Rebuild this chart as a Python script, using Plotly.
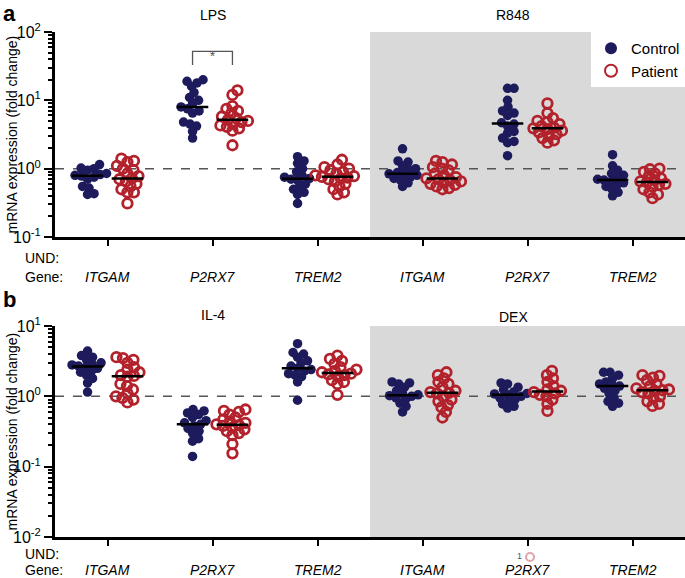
import numpy as np
import plotly.graph_objects as go

W, H = 685, 578
NAVY = "#1e1b5c"
RED = "#b3212b"
GRAY = "#d9d9d9"
FONT = "Liberation Sans, Arial, sans-serif"

genes = ["ITGAM", "P2RX7", "TREM2"]
top_treatments = ["LPS", "R848"]
bottom_treatments = ["IL-4", "DEX"]

# ---- panel a (top) ----
lps_itgam_ctrl = [1.15, 1.02, 1.0, 0.95, 0.85, 0.82, 0.8, 0.78, 0.75, 0.7, 0.55, 0.52, 0.43, 0.42]
lps_itgam_pat = [1.4, 1.3, 1.25, 1.1, 1.0, 0.95, 0.85, 0.78, 0.72, 0.7, 0.65, 0.6, 0.55, 0.5, 0.45, 0.45, 0.31]
lps_p2rx7_ctrl = [20, 19, 18, 16, 13, 11, 10, 9, 8, 7.5, 7, 6.5, 4.8, 4.5, 4.2, 3.5, 2.8]
lps_p2rx7_pat = [14, 12, 8.2, 7.5, 7, 6.5, 5.8, 5.5, 5.2, 5, 4.8, 4.5, 4.3, 4.1, 3.9, 3.6, 2.2]
lps_trem2_ctrl = [1.5, 1.3, 1.2, 1.0, 0.9, 0.8, 0.75, 0.72, 0.7, 0.68, 0.6, 0.55, 0.5, 0.45, 0.42, 0.31]
lps_trem2_pat = [1.35, 1.15, 1.05, 1.0, 0.95, 0.9, 0.85, 0.8, 0.78, 0.76, 0.74, 0.72, 0.7, 0.65, 0.6, 0.55, 0.5, 0.45, 0.42]
r848_itgam_ctrl = [1.95, 1.3, 1.25, 1.1, 1.0, 0.95, 0.88, 0.84, 0.82, 0.8, 0.76, 0.72, 0.68, 0.62, 0.55]
r848_itgam_pat = [1.3, 1.25, 1.15, 1.05, 1.0, 0.95, 0.85, 0.8, 0.75, 0.72, 0.7, 0.68, 0.65, 0.62, 0.6, 0.58, 0.55, 0.52, 0.5]
r848_p2rx7_ctrl = [15, 15, 10, 8, 7, 6.5, 6, 4.7, 4.5, 4.2, 3.5, 3.3, 2.8, 2.5, 2.4, 1.55]
r848_p2rx7_pat = [9, 6.5, 5.5, 5, 4.8, 4.5, 4.2, 4, 3.9, 3.8, 3.6, 3.4, 3.2, 3.0, 2.8, 2.6, 2.4]
r848_trem2_ctrl = [1.6, 1.1, 0.95, 0.85, 0.8, 0.75, 0.7, 0.68, 0.66, 0.62, 0.58, 0.55, 0.5, 0.45, 0.4]
r848_trem2_pat = [1.0, 0.98, 0.9, 0.85, 0.78, 0.72, 0.68, 0.65, 0.63, 0.6, 0.58, 0.55, 0.5, 0.45, 0.42, 0.37]

# ---- panel b (bottom) ----
il4_itgam_ctrl = [4.4, 3.8, 3.6, 3.3, 3.0, 2.9, 2.8, 2.7, 2.6, 2.5, 2.3, 2.2, 2.0, 1.8, 1.55, 1.15]
il4_itgam_pat = [3.6, 3.5, 3.3, 3.0, 2.6, 2.4, 2.2, 2.0, 1.95, 1.9, 1.5, 1.4, 1.25, 1.1, 1.0, 0.95, 0.9, 0.82]
il4_p2rx7_ctrl = [0.65, 0.62, 0.58, 0.55, 0.5, 0.45, 0.42, 0.4, 0.38, 0.35, 0.32, 0.3, 0.25, 0.23, 0.14]
il4_p2rx7_pat = [0.65, 0.62, 0.6, 0.55, 0.5, 0.47, 0.44, 0.42, 0.4, 0.39, 0.38, 0.36, 0.34, 0.32, 0.3, 0.28, 0.21, 0.155]
il4_trem2_ctrl = [5.6, 4.2, 4.0, 3.6, 3.2, 3.0, 2.7, 2.5, 2.4, 2.3, 2.1, 2.0, 1.9, 1.6, 0.88]
il4_trem2_pat = [3.8, 3.4, 3.2, 2.9, 2.6, 2.4, 2.3, 2.2, 2.1, 2.05, 2.0, 1.9, 1.7, 1.6, 1.5, 1.05]
dex_itgam_ctrl = [1.6, 1.55, 1.5, 1.35, 1.2, 1.1, 1.05, 1.02, 1.0, 0.95, 0.9, 0.8, 0.72, 0.6]
dex_itgam_pat = [2.2, 2.0, 1.8, 1.6, 1.5, 1.35, 1.2, 1.15, 1.12, 1.1, 1.0, 0.9, 0.85, 0.75, 0.7, 0.6, 0.5]
dex_p2rx7_ctrl = [1.55, 1.5, 1.35, 1.25, 1.15, 1.1, 1.08, 1.05, 1.0, 0.95, 0.9, 0.85, 0.78, 0.72, 0.68]
dex_p2rx7_pat = [2.3, 2.0, 1.8, 1.6, 1.4, 1.25, 1.2, 1.15, 1.1, 1.05, 1.0, 0.9, 0.78, 0.62]
dex_trem2_ctrl = [2.2, 2.2, 2.0, 1.8, 1.6, 1.5, 1.45, 1.4, 1.3, 1.2, 1.1, 0.95, 0.85, 0.8, 0.72]
dex_trem2_pat = [2.0, 1.95, 1.85, 1.7, 1.5, 1.4, 1.3, 1.25, 1.22, 1.2, 1.15, 1.1, 1.0, 0.95, 0.85, 0.78, 0.73]

top_groups = [
    (lps_itgam_ctrl, lps_itgam_pat), (lps_p2rx7_ctrl, lps_p2rx7_pat), (lps_trem2_ctrl, lps_trem2_pat),
    (r848_itgam_ctrl, r848_itgam_pat), (r848_p2rx7_ctrl, r848_p2rx7_pat), (r848_trem2_ctrl, r848_trem2_pat),
]
bottom_groups = [
    (il4_itgam_ctrl, il4_itgam_pat), (il4_p2rx7_ctrl, il4_p2rx7_pat), (il4_trem2_ctrl, il4_trem2_pat),
    (dex_itgam_ctrl, dex_itgam_pat), (dex_p2rx7_ctrl, dex_p2rx7_pat), (dex_trem2_ctrl, dex_trem2_pat),
]

# geometry (pixels)
X_L, X_R = 55, 685
TOP_Y0, TOP_Y1 = 32, 237     # top panel plot area (pixel rows)
BOT_Y0, BOT_Y1 = 326, 537
XUNIT_PER_PX = 6.0 / (X_R - X_L)


def pyp(pix):
    return 1 - pix / H


def swarm(values, center, px_per_decade, d=6.5):
    ys = np.log10(np.asarray(values, float)) * px_per_decade
    order = np.argsort(ys)
    placed = []
    offs = np.zeros(len(values))
    for i in order:
        y = ys[i]
        chosen = 0.0
        for k in range(0, 200):
            found = None
            for s in ([0.0] if k == 0 else [1.0, -1.0]):
                xo = s * k * 0.5
                if all((xo - px) ** 2 + (y - py) ** 2 >= d * d for px, py in placed):
                    found = xo
                    break
            if found is not None:
                chosen = found
                break
        placed.append((chosen, y))
        offs[i] = chosen
    return center + offs * XUNIT_PER_PX


fig = go.Figure()
OFF = 0.19
HALF = 0.15

panels = [
    (top_groups, "x", "y", (TOP_Y1 - TOP_Y0) / 3.0),
    (bottom_groups, "x2", "y2", (BOT_Y1 - BOT_Y0) / 3.0),
]

for pi, (groups, xa, ya, ppd) in enumerate(panels):
    fig.add_trace(go.Scatter(x=[-0.5, 5.5], y=[1, 1], mode="lines",
                             line=dict(color="#555555", width=1.5, dash="dash"),
                             xaxis=xa, yaxis=ya, showlegend=False, hoverinfo="skip"))
    for gi, (ctrl, pat) in enumerate(groups):
        cx = gi - OFF
        px_ = gi + OFF
        fig.add_trace(go.Scatter(
            x=swarm(ctrl, cx, ppd), y=ctrl, mode="markers",
            marker=dict(symbol="circle", size=9.5, color=NAVY, line=dict(width=0)),
            name="Control", legendgroup="c", showlegend=(pi == 0 and gi == 0),
            xaxis=xa, yaxis=ya))
        fig.add_trace(go.Scatter(
            x=swarm(pat, px_, ppd), y=pat, mode="markers",
            marker=dict(symbol="circle-open", size=9.5, color=RED, line=dict(width=2.8, color=RED)),
            name="Patient", legendgroup="p", showlegend=(pi == 0 and gi == 0),
            xaxis=xa, yaxis=ya))
    for gi, (ctrl, pat) in enumerate(groups):
        for c, vals in ((gi - OFF, ctrl), (gi + OFF, pat)):
            m = float(np.median(vals))
            fig.add_trace(go.Scatter(x=[c - HALF, c + HALF], y=[m, m], mode="lines",
                                     line=dict(color="black", width=2.5),
                                     xaxis=xa, yaxis=ya, showlegend=False, hoverinfo="skip"))

# significance bracket LPS P2RX7
fig.add_trace(go.Scatter(x=[1 - OFF, 1 - OFF, 1 + OFF, 1 + OFF], y=[33, 52, 52, 33], mode="lines",
                         line=dict(color="#555555", width=1.3), xaxis="x", yaxis="y",
                         showlegend=False, hoverinfo="skip"))
fig.add_trace(go.Scatter(x=[1], y=[42], mode="text", text=["*"],
                         textfont=dict(size=14, color="#555555", family=FONT),
                         xaxis="x", yaxis="y", showlegend=False, hoverinfo="skip"))

xdom = [X_L / W, 1.0]
xcommon = dict(range=[-0.5, 5.5], showgrid=False, zeroline=False, showline=True, automargin=False,
               linecolor="black", linewidth=3, ticks="outside", ticklen=6, tickwidth=2,
               tickcolor="black", tickvals=[0, 1, 2, 3, 4, 5], showticklabels=False)


def yaxis_cfg(lo, hi, dom):
    major = [10.0 ** k for k in range(lo, hi + 1)]
    minor = [m * 10.0 ** k for k in range(lo, hi) for m in range(2, 10)]
    return dict(type="log", range=[lo, hi], domain=dom, showgrid=False, zeroline=False,
                automargin=False,
                showline=True, linecolor="black", linewidth=3, ticks="outside", ticklen=8,
                tickwidth=2, tickcolor="black", tickmode="array", tickvals=major,
                ticktext=["10<sup>%d</sup>" % k for k in range(lo, hi + 1)],
                tickfont=dict(size=16, color="black", family=FONT),
                minor=dict(tickmode="array", tickvals=minor, ticks="outside", ticklen=4,
                           tickwidth=1.5, tickcolor="black", showgrid=False))


fig.update_layout(
    template="none",
    width=W, height=H, margin=dict(l=0, r=0, t=0, b=0, pad=0, autoexpand=False),
    paper_bgcolor="white", plot_bgcolor="rgba(0,0,0,0)",
    font=dict(family=FONT, color="black"),
    xaxis=dict(domain=xdom, anchor="y", **xcommon),
    xaxis2=dict(domain=xdom, anchor="y2", **xcommon),
    yaxis=yaxis_cfg(-1, 2, [pyp(TOP_Y1), pyp(TOP_Y0)]),
    yaxis2=yaxis_cfg(-2, 1, [pyp(BOT_Y1), pyp(BOT_Y0)]),
    legend=dict(x=1.0, xanchor="right", y=pyp(TOP_Y0), yanchor="top", bgcolor="white",
                font=dict(size=15, family=FONT), itemsizing="constant",
                tracegroupgap=0, borderwidth=0),
    shapes=[
        dict(type="rect", xref="x", yref="y domain", x0=2.5, x1=5.5, y0=0, y1=1,
             fillcolor=GRAY, line=dict(width=0), layer="below"),
        dict(type="rect", xref="x2", yref="y2 domain", x0=2.5, x1=5.5, y0=0, y1=1,
             fillcolor=GRAY, line=dict(width=0), layer="below"),
        dict(type="circle", xref="paper", yref="paper", xsizemode="pixel", ysizemode="pixel",
             xanchor=530 / W, yanchor=pyp(557), x0=-4, x1=4, y0=-4, y1=4,
             line=dict(color="#e3a7ae", width=2.2)),
    ],
)

ann = []


def text(x_px, y_px, s, size=14, **kw):
    color = kw.pop("color", "black")
    d = dict(x=x_px / W, y=pyp(y_px), xref="paper", yref="paper", text=s, showarrow=False,
             xanchor="center", yanchor="middle",
             font=dict(size=size, family=FONT, color=color))
    d.update(kw)
    ann.append(d)


text(1, 13, "<b>a</b>", size=22, xanchor="left")
text(1, 299, "<b>b</b>", size=22, xanchor="left")
text(213, 15, "LPS", size=14)
text(513, 15, "R848", size=14)
text(213, 315, "IL-4", size=14)
text(513, 317, "DEX", size=14)
for y0, y1 in ((TOP_Y0, TOP_Y1), (BOT_Y0, BOT_Y1)):
    text(12, (y0 + y1) / 2, "mRNA expression (fold change)", size=14, textangle=-90)
for und_y, gene_y in ((258, 277), (554, 570)):
    text(23, und_y, "UND:", size=14, xanchor="left")
    text(23, gene_y, "Gene:", size=14, xanchor="left")
    for i in range(6):
        xpx = X_L + (i + 0.5) / 6.0 * (X_R - X_L)
        text(xpx, gene_y, "<i>%s</i>" % genes[i % 3], size=14)
text(519, 556, "1", size=9, color="#555555")

fig.update_layout(annotations=ann)
fig.write_html("out.html", config={"displayModeBar": False},
               post_script="document.body.style.margin='0';document.body.style.overflow='hidden';")
